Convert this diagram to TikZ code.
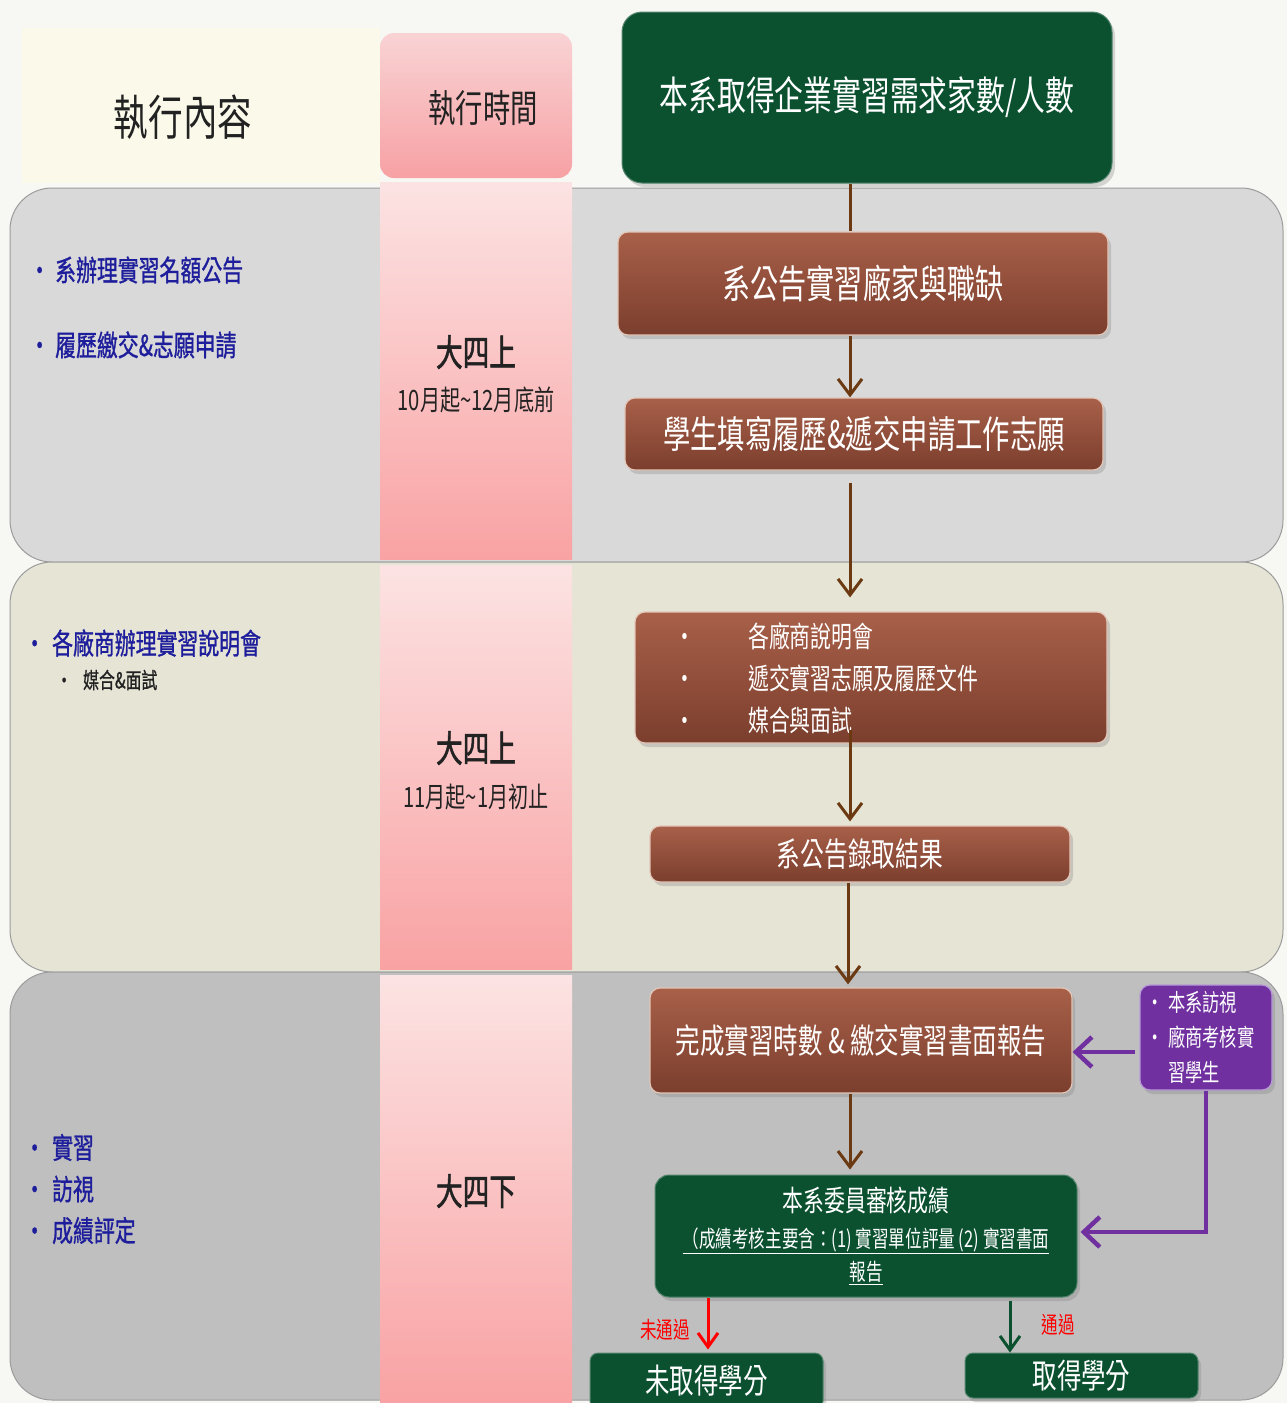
\documentclass[tikz,border=0pt]{standalone}
\usepackage{fontspec}
\setmainfont[FakeStretch=0.72]{Noto Sans CJK TC}
\newfontfamily\cjkb[FakeStretch=0.72,FakeBold=1.5]{Noto Sans CJK TC}
\newfontfamily\cjkm[FakeStretch=0.72,FakeBold=1]{Noto Sans CJK TC}
\usetikzlibrary{arrows.meta,shadows,calc}
\newcommand\myfs[1]{\fontsize{#1}{#1}\selectfont}
\definecolor{bgc}{HTML}{F7F7F4}
\definecolor{creamc}{HTML}{FBFAEA}
\definecolor{bandA}{HTML}{D9D9D9}
\definecolor{bandB}{HTML}{E6E4D5}
\definecolor{bandC}{HTML}{BFBFBF}
\definecolor{bandE}{HTML}{9C9C9C}
\definecolor{pinkT}{HTML}{FCE3E3}
\definecolor{pinkB}{HTML}{F9A2A3}
\definecolor{pinkHT}{HTML}{F9D3D4}
\definecolor{pinkHB}{HTML}{F7A1A4}
\definecolor{brT}{HTML}{A86049}
\definecolor{brB}{HTML}{7B3E2D}
\definecolor{brE}{HTML}{E2C6B8}
\definecolor{dgreen}{HTML}{0B5130}
\definecolor{purp}{HTML}{7030A0}
\definecolor{purpE}{HTML}{B79AD6}
\definecolor{arrb}{HTML}{6B3A12}
\definecolor{navy}{HTML}{1E1E9C}
\definecolor{txtk}{HTML}{222222}
\tikzset{
  brownbox/.style={rectangle, rounded corners=10pt, top color=brT, bottom color=brB,
    draw=brE, line width=1.2pt, text=white, inner sep=0pt,
    drop shadow={opacity=0.3,shadow xshift=3pt,shadow yshift=-4pt}},
  greenbox/.style={rectangle, rounded corners=14pt, fill=dgreen, draw=dgreen!70!white,
    line width=1pt, text=white, inner sep=0pt,
    drop shadow={opacity=0.3,shadow xshift=3pt,shadow yshift=-4pt}},
  purpbox/.style={rectangle, rounded corners=10pt, fill=purp, draw=purpE, line width=1.2pt,
    text=white, drop shadow={opacity=0.3,shadow xshift=3pt,shadow yshift=-4pt}},
  lefttext/.style={anchor=west, text=navy, inner sep=0pt, font=\cjkm\myfs{29}},
  pinktext/.style={text=txtk, inner sep=0pt},
  brarr/.style={draw=arrb, line width=3pt, -{Straight Barb[length=16pt,width=24pt]}},
  brline/.style={draw=arrb, line width=3pt},
  purarr/.style={draw=purp, line width=4.5pt, -{Straight Barb[length=16pt,width=30pt]}},
  redarr/.style={draw=red, line width=3pt, -{Straight Barb[length=14pt,width=20pt]}},
  grnarr/.style={draw=dgreen, line width=3pt, -{Straight Barb[length=14pt,width=20pt]}},
  redlab/.style={text=red, inner sep=0pt, font=\myfs{23}}
}
\begin{document}
\begin{tikzpicture}[x=1pt,y=-1pt]
\useasboundingbox (0,0) rectangle (1287,1403);
\clip (0,0) rectangle (1287,1403);
\fill[bgc] (0,0) rectangle (1287,1403);
% header cream
\fill[creamc] (22,28) rectangle (380,183);
% bands
\draw[bandE, line width=1pt, fill=bandA, rounded corners=42pt] (10,188) rectangle (1283,562);
\draw[bandE, line width=1pt, fill=bandB, rounded corners=42pt] (10,562) rectangle (1283,972);
\draw[bandE, line width=1pt, fill=bandC, rounded corners=42pt] (10,972) rectangle (1283,1400);
% pink column
\shade[top color=pinkHT, bottom color=pinkHB, rounded corners=14pt] (380,33) rectangle (572,178);
\shade[top color=pinkT, bottom color=pinkB] (380,182) rectangle (572,559);
\shade[top color=pinkT, bottom color=pinkB] (380,565) rectangle (572,969);
\shade[top color=pinkT, bottom color=pinkB] (380,975) rectangle (572,1403);

% header texts
\node[text=txtk, inner sep=0pt, font=\myfs{48}] (hcont) at (183,117) {執行內容};
\node[text=txtk, inner sep=0pt, font=\myfs{38}] (htime) at (483,108) {執行時間};

% time texts
\node[pinktext, font=\cjkb\myfs{37}] (t1a) at (476,352) {大四上};
\node[pinktext, font=\myfs{28}] (t1b) at (476,400) {10月起\textasciitilde 12月底前};
\node[pinktext, font=\cjkb\myfs{37}] (t2a) at (476,748) {大四上};
\node[pinktext, font=\myfs{28}] (t2b) at (476,797) {11月起\textasciitilde 1月初止};
\node[pinktext, font=\cjkb\myfs{37}] (t3a) at (476,1191) {大四下};

% left content texts
\node[lefttext] (l1) at (29,270) {\makebox[26pt][l]{•}系辦理實習名額公告};
\node[lefttext] (l2) at (29,345) {\makebox[26pt][l]{•}履歷繳交\&志願申請};
\node[lefttext] (l3) at (24,643) {\makebox[28pt][l]{•}各廠商辦理實習說明會};
\node[lefttext, text=txtk, font=\cjkm\myfs{22}] (l4) at (56,680) {\makebox[27pt][l]{•}媒合\&面試};
\node[lefttext, align=left, font=\cjkm\fontsize{29}{41.5}\selectfont] (l5) at (24,1189)
  {\makebox[28pt][l]{•}實習\\ \makebox[28pt][l]{•}訪視\\ \makebox[28pt][l]{•}成績評定};

% flow nodes
\node[greenbox, rounded corners=20pt, minimum width=490pt, minimum height=171pt, font=\myfs{40}] (top) at (867,97.5) {本系取得企業實習需求家數/人數};
\node[brownbox, minimum width=490pt, minimum height=103pt, font=\myfs{39}] (b1) at (863,283.5) {系公告實習廠家與職缺};
\node[brownbox, minimum width=478pt, minimum height=72pt, font=\myfs{38}] (b2) at (864,434) {學生填寫履歷\&遞交申請工作志願};
\node[brownbox, minimum width=472pt, minimum height=131pt] (b3) at (871,677.5) {};
\node[anchor=west, text=white, inner sep=0pt, align=left, font=\fontsize{29}{42}\selectfont] (b3t) at (674,678)
  {\makebox[74pt][l]{•}各廠商說明會\\ \makebox[74pt][l]{•}遞交實習志願及履歷文件\\ \makebox[74pt][l]{•}媒合與面試};
\node[brownbox, minimum width=420pt, minimum height=56pt, font=\myfs{33}] (b4) at (860,854) {系公告錄取結果};
\node[brownbox, minimum width=422pt, minimum height=105pt, font=\myfs{34}] (b5) at (861,1040.5) {完成實習時數 \& 繳交實習書面報告};
\node[purpbox, inner sep=6pt, text width=120pt, minimum height=105pt, align=left, font=\fontsize{24}{35}\selectfont] (pur) at (1206,1037.5)
  {\makebox[22pt][l]{•}本系訪視\\ \makebox[22pt][l]{•}廠商考核實\\ \hspace*{22pt}習學生};
\node[greenbox, minimum width=422pt, minimum height=122pt, align=center, font=\fontsize{23}{33}\selectfont] (gr) at (866,1236)
  {{\myfs{29}本系委員審核成績}\\[3pt] \underline{（成績考核主要含：(1) 實習單位評量 (2) 實習書面}\\ \underline{報告}};
\node[greenbox, rounded corners=8pt, minimum width=233pt, minimum height=56pt, font=\myfs{34}] (fail) at (706.5,1381) {未取得學分};
\node[greenbox, rounded corners=8pt, minimum width=233pt, minimum height=45pt, font=\myfs{34}] (pass) at (1081.5,1375.5) {取得學分};

% helper coordinates
\coordinate (ax) at (850,0);
\coordinate (py) at (0,1052);
\coordinate (rx) at (708,0);
\coordinate (gx) at (1010,0);

% connectors
\draw[brline] (top.south -| ax) -- (b1.north -| ax);
\draw[brarr] (b1.south -| ax) -- (b2.north -| ax);
\draw[brarr, shorten <=12pt, shorten >=14pt] (b2.south -| ax) -- (b3.north -| ax);
\draw[brarr, shorten >=4pt] ($(b3.south -| ax)+(0,-14)$) -- (b4.north -| ax);
\draw[brarr, shorten >=3pt] ($(b4.south -| ax)+(-2,0)$) -- ($(b5.north -| ax)+(-2,0)$);
\draw[brarr, shorten >=5pt] (b5.south -| ax) -- (gr.north -| ax);
\draw[purarr, shorten <=4pt] (pur.west |- py) -- (b5.east |- py);
\draw[purarr, shorten >=3pt, rounded corners=0pt] (pur.south) |- ($(gr.east)+(0,-4)$);
\draw[redarr, shorten >=3pt] (gr.south -| rx) -- (fail.north -| rx);
\draw[grnarr, shorten <=3pt] (gr.south -| gx) -- (pass.north -| gx);

% labels
\node[redlab] (nolab) at (665,1330) {未通過};
\node[redlab] (yeslab) at (1058,1325) {通過};
\end{tikzpicture}
\end{document}
